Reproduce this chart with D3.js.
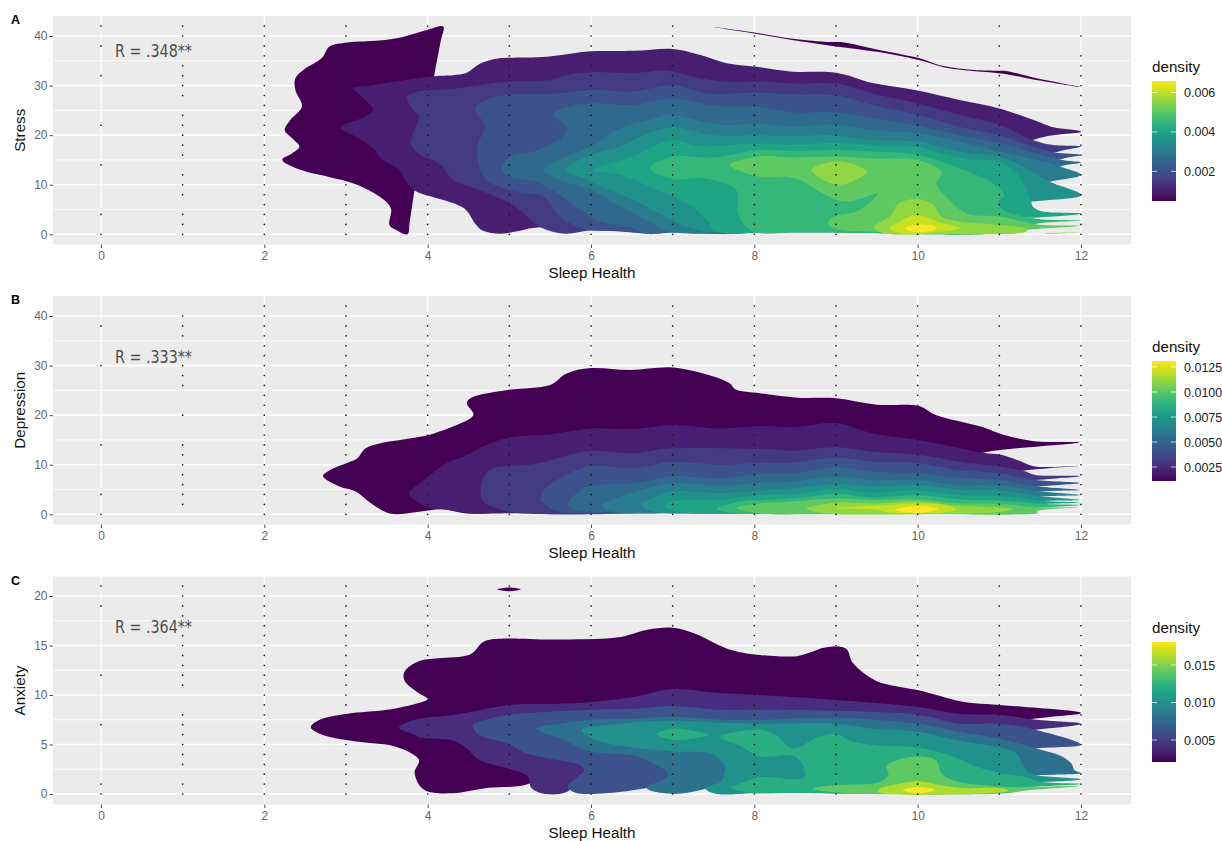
<!DOCTYPE html>
<html>
<head>
<meta charset="utf-8">
<script src="https://cdn.jsdelivr.net/npm/d3@7"></script>
<style>
  html, body { margin: 0; padding: 0; background: #fff; }
  svg { display: block; font-family: "Liberation Sans", Arial, sans-serif; }
</style>
</head>
<body>
<div id="chart"></div>
<script>
const xTicks = [0, 2, 4, 6, 8, 10, 12]
const stressTicks = [0, 10, 20, 30, 40]
const stressMinor = [5, 15, 25, 35]
const anxietyTicks = [0, 5, 10, 15, 20]
const anxietyMinor = [2.5, 7.5, 12.5, 17.5]

const stressLegend = [0.002, 0.004, 0.006]
const depressionLegend = [0.0025, 0.005, 0.0075, 0.01, 0.0125]
const anxietyLegend = [0.005, 0.01, 0.015]

// contour outlines, [sleep health, score]
const stressL1 = [[4.19,41.9],[3.99,41.2],[3.67,39.7],[3.41,39.1],[3.02,38.7],[2.8,37.9],[2.7,35.5],[2.49,33.3],[2.38,31.5],[2.38,29.1],[2.46,25.8],[2.32,23.1],[2.25,21],[2.34,19.4],[2.43,17.7],[2.34,16.3],[2.22,15],[2.44,13],[2.78,11.6],[3.12,10.1],[3.41,7.6],[3.55,5.2],[3.53,2],[3.6,1],[3.75,0],[3.78,2.5],[3.84,9],[3.96,20],[4.08,32],[4.16,39]]
const stressStrip = [[7.49,41.8],[8,40.7],[8.5,39.4],[8.9,38.8],[9.1,38.7],[9.5,37.3],[10,35.6],[10.3,34],[10.65,33.2],[10.95,33],[11.1,32.9],[11.4,31.7],[12,29.7],[11.4,31.3],[11.05,32.4],[10.7,32.9],[10.35,33.6],[10,35.2],[9.5,36.8],[9,37.9],[8.5,39.1],[8,40.5]]
const stressL2 = [[3.09,29.5],[3.26,29.9],[3.6,30.8],[4.08,31.9],[4.31,32.1],[4.48,32.6],[4.64,34.4],[4.84,35.4],[5,35.6],[5.46,35.8],[6,36.9],[6.52,37],[7,37.4],[7.33,36.2],[7.66,34.5],[8.07,33.7],[8.47,32.8],[9,32.6],[9.45,30.5],[10,29],[10.51,27.1],[11,25.4],[11.41,23.1],[11.66,21.6],[12,20.7],[11.41,19],[10.5,10],[8,3],[5.38,1.4],[5.13,.7],[4.89,.1],[4.68,.7],[4.58,2.2],[4.47,4.9],[4.31,6.3],[3.91,8.3],[3.84,8.9],[3.75,10.3],[3.65,13],[3.43,15.3],[3.33,17.4],[3.12,19.7],[2.93,21.7],[3.19,23.4],[3.33,25.1],[3.19,27.8]]
const stressL3 = [[3.75,27.8],[3.89,28.8],[4.31,29.3],[4.64,30.1],[5,30.8],[5.46,31],[5.7,32.1],[6,32.7],[6.52,32.5],[6.93,33],[7.33,31.5],[7.74,30.7],[8.07,30.8],[8.47,30.4],[9,30.4],[9.45,28.4],[10,26.4],[10.51,24.1],[11,22.1],[11.41,19],[11.66,18],[12,17.7],[11.68,16.5],[10,8],[7,.5],[6.76,.2],[6.19,.7],[5.95,.7],[5.68,.1],[5.38,1.4],[5.13,4.9],[4.93,6.9],[4.64,8.9],[4.31,11],[4.15,14.2],[3.91,16],[3.79,18.4],[3.84,21],[3.89,23.7],[3.79,25.8]]
const stressL4 = [[4.58,25.4],[4.76,27.4],[5,28.2],[5.54,28.4],[6,29.1],[6.52,28.8],[7,30.1],[7.42,28.4],[8.07,28.6],[8.47,28.2],[9,28],[9.45,26.1],[10,24.1],[10.51,21.7],[11,20],[11.41,17.7],[11.68,16.5],[12,16],[11.74,15.1],[10,7],[8,.4],[7.29,.2],[7,.5],[6.68,.1],[6.36,.7],[5.95,.9],[5.7,2.6],[5.58,4.2],[5.42,7.6],[5,8.9],[4.72,11],[4.62,14.3],[4.62,18.4],[4.7,21.7]]
const stressL5 = [[5.54,24.3],[5.74,25.8],[6,26.4],[6.52,26.1],[7,27.4],[7.5,26],[8.07,25.7],[8.47,24.6],[9,24.6],[9.45,23.4],[10,21.9],[10.51,20],[11,18.4],[11.74,15.1],[12,14.5],[11.74,13.7],[10,6],[8,.4],[7,.3],[6.68,.1],[6.52,1.2],[6.11,2.6],[5.82,5.6],[5.38,10.3],[5.01,11.6],[4.91,13.3],[5.01,15.7],[5.29,16.7],[5.54,18.4],[5.71,21.2]]
const stressL6 = [[5.42,13.1],[5.7,15.7],[6,17.7],[6.36,21.4],[6.72,23.1],[7,24.1],[7.5,22.2],[8.07,22.2],[8.47,21.8],[9,22.1],[9.45,21],[10,20.4],[10.51,18.7],[11,16.7],[11.66,14.2],[11.74,13.7],[12,12],[11.62,10.6],[10,6],[7.6,.4],[7,.5],[6.76,2.2],[6.44,4.9],[6,8.9],[5.62,11]]
const stressL7 = [[5.7,13.1],[6,16],[6.36,17.7],[6.6,19.7],[7,21.6],[7.5,20],[8.07,20],[8.47,19.8],[9,20],[9.45,19],[10,18.7],[10.51,16.7],[11,15.7],[11.29,13.7],[11.62,10.6],[12,7.9],[11.4,6.6],[10,4],[7.7,.5],[7.29,.9],[6.84,4.2],[6.52,6.9],[6,10.6]]
const stressL8 = [[6.03,13],[6.56,16],[6.76,17.7],[7,19],[7.33,17.8],[8.07,18.3],[8.47,18],[9,18.4],[9.45,17.8],[10,17.6],[10.29,16.3],[10.68,15],[11,14.7],[11.21,12.3],[11.33,8.9],[11.39,6.6],[11.41,5.6],[11.53,4.6],[12,4.2],[11.47,3.4],[10,3],[8,.3],[7.54,.5],[7.42,2.9],[7.17,6.3],[6.76,9.3],[6.36,12]]
const stressL9 = [[6.72,13.3],[7,15.7],[7.5,15.5],[8.07,17],[8.47,16.8],[9,17],[9.45,16.7],[10,16],[10.51,13.3],[10.92,10.3],[11.06,7.9],[10.98,6.3],[11.09,4.6],[11.47,3.1],[12,2.8],[11.47,2.2],[10.9,.1],[9.29,.2],[8.47,.3],[8.07,.2],[7.92,1.2],[7.8,4.2],[7.78,8.9],[7.38,11.3],[7,11.1]]
const stressL10 = [[7.7,14],[8.07,15.7],[8.47,15.5],[9,15.7],[9.45,15.3],[10,15],[10.29,12.6],[10.23,10.3],[10.35,7.6],[10.6,4.2],[11,3.6],[11.47,2],[12,1.7],[11.33,.9],[10.9,.1],[10,.05],[9.45,.5],[9.05,.9],[8.9,2.2],[8.98,3.6],[9.25,4.6],[9.41,6.3],[9.51,8.3],[9.33,7.3],[9.09,6.6],[8.8,8.6],[8.6,10.6],[8.39,11.6],[8.07,11.6]]
const stressL11a = [[8.7,13],[8.8,14],[9,14.7],[9.25,14],[9.38,12.6],[9.25,11],[9.05,10],[8.84,11]]
const stressL11b = [[9.47,1.5],[9.66,3.6],[9.78,6.3],[10,7.1],[10.19,5.9],[10.29,3.6],[10.51,2.6],[11,1.9],[11.33,1.2],[11.29,.3],[10.19,.05],[9.62,.1]]
const stressL11c = [[11.55,.15],[12,.45],[11.6,.05]]
const stressL12 = [[9.66,1.2],[9.82,2.9],[10,3.9],[10.27,2.4],[10.53,1.2],[10.27,.5],[9.82,.1]]
const stressL13 = [[9.85,1.3],[10,2],[10.19,1.7],[10.23,1.2],[10.11,.5],[9.9,.7]]

const depressionL1 = [[2.72,7.6],[2.8,8.9],[3.02,10.4],[3.14,11.3],[3.24,13.3],[3.41,14.3],[3.7,15.1],[3.99,15.9],[4.11,16.5],[4.31,17.7],[4.56,20],[4.48,22.4],[4.56,23.7],[5,25.1],[5.5,26.1],[5.7,28.4],[6,29.5],[6.48,29.1],[7,29.6],[7.5,27.8],[7.7,26.4],[7.78,25.1],[8.07,24.4],[8.53,23.5],[9,23.4],[9.5,22.1],[10,21.9],[10.23,20],[10.77,17.7],[11.06,16],[11.46,14.7],[11.98,14.5],[11.21,13.3],[10.8,12.4],[9,6],[6,2],[4.56,.1],[4.18,1],[3.89,.5],[3.55,.1],[3.31,2.2],[3.12,4.6],[2.92,5.6]]
const depressionL2 = [[3.77,4.2],[3.91,6.3],[4.23,10.3],[4.43,11.6],[4.72,14],[5,15.5],[5.54,16.2],[6,17.3],[6.52,17.2],[7,18],[7.58,17.3],[8.07,17.8],[8.47,17.6],[9,18.4],[9.45,16.3],[10,15],[10.42,13.7],[10.8,12.4],[11.02,12],[11.21,11],[11.46,9.6],[11.98,9.8],[11.29,8.8],[9,4],[6,.3],[5,.2],[4.57,.1],[4.4,.5],[4.18,1],[4.04,1.2],[3.87,2.6]]
const depressionL3 = [[4.65,4.9],[4.68,7.3],[4.8,9.3],[5.33,10.2],[5.74,12],[6,12.8],[6.52,12.3],[7,13.3],[8.07,13.2],[8.47,12.8],[9,13.5],[9.45,12.6],[10,12],[10.51,10.6],[11,9.6],[11.29,8.8],[11.46,7.9],[11.98,7.7],[11.44,6.9],[9,3],[6.5,.2],[5.13,.2],[4.85,1.2],[4.68,2.6]]
const depressionL4 = [[5.38,2.9],[5.42,4.9],[5.58,6.9],[5.82,8.9],[6,9.8],[6.52,9.3],[7,10.6],[7.58,10],[8.07,10.4],[8.47,10.4],[9,11.4],[9.45,10.6],[10,10.3],[10.51,8.9],[11,8.3],[11.44,6.9],[11.98,6.3],[11.48,5.6],[9,2],[6.5,.2],[5.62,.5],[5.44,1.9]]
const depressionL5 = [[5.72,1.9],[5.82,4.2],[6,5.7],[6.52,6.3],[7,7.7],[7.58,7.2],[8.07,8.2],[8.47,8.3],[9,9.5],[9.45,8.6],[10,8.3],[10.51,7.3],[11,6.9],[11.48,5.6],[11.98,4.9],[11.51,4.6],[9,1.5],[6.5,.2],[5.82,.9]]
const depressionL6 = [[6.14,1.9],[6.36,3.6],[6.68,5.2],[7,6.3],[7.58,5.8],[8.07,6.3],[8.47,6.6],[9,7.6],[9.45,6.9],[10,6.9],[10.51,5.9],[11,5.9],[11.51,4.6],[11.98,3.9],[11.53,3.6],[9,1],[7,.2],[6.27,.5]]
const depressionL7 = [[6.62,1.9],[6.84,3.9],[7,4.7],[7.58,4.3],[8.07,4.8],[8.47,5.2],[9,6.1],[9.45,5.6],[10,5.9],[10.51,4.9],[11,4.8],[11.53,3.6],[11.98,2.9],[11.55,2.7],[9,.6],[7,.15],[6.77,.5]]
const depressionL8 = [[6.89,1.7],[7.09,2.9],[7.58,2.9],[8.07,3.9],[8.47,4.1],[9,5],[9.45,4.4],[10,4.8],[10.51,3.9],[11,3.7],[11.55,2.7],[11.98,2.4],[11.55,2.1],[9,.4],[7.3,.1],[7.09,.5]]
const depressionL9 = [[7.54,1.2],[7.83,2.6],[8.07,2.9],[8.47,3.2],[9,4.1],[9.45,3.4],[10,3.9],[10.51,3],[11,2.8],[11.55,2.1],[11.98,1.9],[11.53,1.4],[10,.3],[8,.05],[7.7,.3]]
const depressionL10 = [[7.78,1.3],[8.07,2.2],[8.47,2.6],[9,3.2],[9.45,2.9],[10,3],[10.51,2.2],[11,2.1],[11.53,1.4],[11.98,1.4],[11.47,.7],[11.45,.15],[10,.02],[8.64,.02],[8.1,.1]]
const depressionL11 = [[8.64,1.2],[9,2.4],[9.49,2.2],[10,2.6],[10.51,1.7],[11,1.4],[11.16,1],[10.9,.3],[10,.02],[9,.02],[8.8,.3]]
const depressionL12 = [[8.96,1.2],[9.45,1.7],[10,2.2],[10.34,1.9],[10.48,1],[10.27,.3],[9.69,.3],[9.49,.9]]
const depressionL13 = [[9.73,1],[10,1.7],[10.19,1.4],[10.25,1],[10.07,.3],[9.8,.5]]

const anxietyL1 = [[2.57,6.7],[2.68,7.5],[3.02,8.1],[3.5,8.5],[3.89,9.2],[4,9.6],[3.89,10.2],[3.72,11.4],[3.72,12.4],[3.89,13.4],[4.13,13.7],[4.52,14.1],[4.69,15.4],[4.95,15.7],[5.54,15.6],[6.31,15.8],[6.69,16.6],[7,16.8],[7.27,16.2],[7.66,14.7],[8,14.1],[8.49,13.9],[8.68,14.3],[8.87,14.8],[9.12,14.7],[9.21,13.2],[9.5,11.4],[10,10.5],[10.23,10],[10.57,9.3],[11.16,8.9],[12,8.2],[11.42,7.6],[9,5],[5.6,3],[5.23,1],[4.72,.6],[4.31,.07],[3.96,.4],[3.84,2.1],[3.89,3.5],[3.6,4.8],[3.12,5.3],[2.78,5.8]]
const anxietyIsland = [[4.85,20.67],[5,20.85],[5.14,20.67],[5,20.47]]
const anxietyL2 = [[3.65,6.7],[3.84,7.5],[4.33,8],[5,9],[5.54,9.1],[6,9.3],[6.52,9.8],[7,10.6],[7.58,10.2],[8.07,10],[9,9.5],[10,8.8],[10.51,8.1],[11,8],[11.45,7.5],[12,7.1],[11.44,6.5],[9,5],[6,2],[5.7,.2],[5.44,0],[5.27,.6],[5.21,1.9],[4.64,3.4],[4.48,4.6],[4.31,5.4],[3.91,5.7],[3.84,6]]
const anxietyL3 = [[4.55,6.9],[4.64,7.3],[5,8],[6,8.5],[6.52,8.6],[7,8.9],[7.58,8.5],[8.07,8.5],[9,8.4],[10,8],[10.51,7.1],[11,7.1],[11.44,6.5],[12,5],[11.45,4.6],[9,3],[7.3,1.5],[6.68,.6],[6.36,.2],[6,0],[5.82,.1],[5.72,.6],[5.74,1.1],[5.91,2.3],[5.87,2.9],[5.62,3.4],[5.21,4.1],[4.97,5.1],[4.64,5.9]]
const anxietyL4 = [[5.33,6.6],[5.62,7.1],[6,7.5],[6.52,7.6],[7,7.8],[7.58,7.5],[8.07,7.5],[9,7.7],[10,7.1],[10.51,6.3],[11,5.6],[11.45,4.6],[11.74,3.9],[11.88,3.1],[11.92,2.4],[12,2.1],[11.47,1.9],[9,1],[7.6,1],[7.37,.45],[7,0],[6.68,.6],[6.95,1.9],[6.76,3.1],[6.52,3.9],[6,4.3],[5.62,5.6]]
const anxietyL5 = [[5.89,6.5],[6.36,7.1],[7,7.4],[7.58,7.2],[8.07,7.1],[9,7.1],[9.45,6.6],[10,6.3],[10.51,5.4],[11,4.7],[11.2,4.2],[11.33,2.4],[11.45,1.9],[12,1.5],[11.45,1.2],[9,.8],[8,.1],[7.54,0],[7.4,.6],[7.58,1.2],[7.64,2.8],[7.46,4.1],[7,4.3],[6.44,4.8],[6.07,5.4]]
const anxietyL6a = [[6.8,6.05],[7,6.6],[7.25,6.4],[7.44,5.95],[7.25,5.6],[7,5.45]]
const anxietyL6b = [[7.58,5.8],[8.07,6.5],[8.27,5.9],[8.47,4.6],[8.8,5.8],[9,6.1],[9.17,5.4],[9.49,4.9],[10,4.7],[10.43,3.8],[10.71,2.8],[11,2.1],[11.33,1.7],[11.53,1.2],[12,1],[11.4,.7],[11,.3],[9.3,.02],[8.47,.1],[7.95,.1],[7.71,.6],[7.78,.9],[8.07,1.7],[8.47,1.5],[8.62,1.7],[8.58,3.1],[8.47,3.9],[8.07,3.8],[7.82,4.9]]
const anxietyL7 = [[8.72,.5],[9,.9],[9.49,1.1],[9.64,1.9],[9.62,2.8],[9.74,3.4],[10,3.8],[10.23,3.4],[10.29,2.1],[10.51,1.2],[10.92,.8],[11.13,.7],[12,.8],[11.33,.35],[11,.02],[9.29,.02]]
const anxietyL8 = [[9.51,.4],[9.7,.9],[10,1.3],[10.27,.9],[10.55,.6],[11,.6],[11.11,.3],[10.7,.02],[9.6,.02]]
const anxietyL9 = [[9.82,.4],[10,.7],[10.21,.4],[10,.07]]

const fullEven = [0,2,4,6,8,10,12,14,16,18,20,22,24,26,28,30,32,34,36,38,40,42]
const evenTo40 = [0,2,4,6,8,10,12,14,16,18,20,22,24,26,28,30,32,34,36,38,40]
const fullOnes = [0,1,2,3,4,5,6,7,8,9,10,11,12,13,14,15,16,17,18,19,20,21]

// observed scores, one list per sleep health value 0..12
const stressDots = [
  [0,4,14,22,32,38,42],
  [0,2,4,8,10,12,16,18,20,22,24,28,30,32,34,40,42],
  fullEven, fullEven, fullEven, fullEven, fullEven, fullEven,
  evenTo40, fullEven, evenTo40,
  [0,2,4,6,8,10,12,14,16,18,20,22,24,26,28,30,32,34,38,42],
  [0,2,4,6,8,10,12,14,16,18,20,22,24,26,28,30,32,34,36,40]
]
const depressionDots = [
  [0,4,14,30,38],
  [2,4,6,8,10,12,14,20,26,28,30,36,38,40],
  fullEven, fullEven, evenTo40, fullEven, fullEven, fullEven, fullEven, fullEven, fullEven,
  [0,2,4,6,8,10,12,14,16,18,20,22,24,26,28,30,32,34,38,40],
  [0,2,4,6,8,10,12,14,16,18,20,22,24,26,28,30,32,34,38]
]
const anxietyDots = [
  [0,1,7,12,19,21],
  [0,1,3,4,5,6,7,8,11,12,13,14,15,16,18,19,20,21],
  fullOnes, fullOnes, fullOnes, fullOnes, fullOnes, fullOnes, fullOnes, fullOnes, fullOnes,
  [0,1,2,3,4,5,6,7,8,9,10,11,12,13,14,15,16,17,19,21],
  [0,1,2,3,4,5,6,7,8,9,10,11,12,13,14,15,16,17,19]
]

const width = 1222
const height = 841
const xScale = d3.scaleLinear().domain([0, 12]).range([101, 1081])
const panelLeft = 53
const panelRight = 1131

const panels = [
  {
    letter: 'A', yLabel: 'Stress', r: 'R = .348**', rValue: 35.8,
    top: 16, bottom: 244.5, yDomain: [0, 40], yRange: [234.3, 36],
    ticks: stressTicks, minor: stressMinor, dots: stressDots,
    levels: 13,
    bands: [[0, stressL1], [0, stressStrip], [1, stressL2], [2, stressL3], [3, stressL4], [4, stressL5], [5, stressL6], [6, stressL7], [7, stressL8], [8, stressL9], [9, stressL10], [10, stressL11a], [10, stressL11b], [10, stressL11c], [11, stressL12], [12, stressL13]],
    legend: stressLegend, legendDomain: [0.0005, 0.00658], legendTop: 81, format: d3.format('.3f')
  },
  {
    letter: 'B', yLabel: 'Depression', r: 'R = .333**', rValue: 30.6,
    top: 296, bottom: 524.5, yDomain: [0, 40], yRange: [514.3, 316],
    ticks: stressTicks, minor: stressMinor, dots: depressionDots,
    levels: 13,
    bands: [[0, depressionL1], [1, depressionL2], [2, depressionL3], [3, depressionL4], [4, depressionL5], [5, depressionL6], [6, depressionL7], [7, depressionL8], [8, depressionL9], [9, depressionL10], [10, depressionL11], [11, depressionL12], [12, depressionL13]],
    legend: depressionLegend, legendDomain: [0.0011, 0.0131], legendTop: 361, format: d3.format('.4f')
  },
  {
    letter: 'C', yLabel: 'Anxiety', r: 'R = .364**', rValue: 16.3,
    top: 576.5, bottom: 804.5, yDomain: [0, 20], yRange: [794, 596],
    ticks: anxietyTicks, minor: anxietyMinor, dots: anxietyDots,
    levels: 9,
    bands: [[0, anxietyL1], [0, anxietyIsland], [1, anxietyL2], [2, anxietyL3], [3, anxietyL4], [4, anxietyL5], [5, anxietyL6a], [5, anxietyL6b], [6, anxietyL7], [7, anxietyL8], [8, anxietyL9]],
    legend: anxietyLegend, legendDomain: [0.00207, 0.01807], legendTop: 642, format: d3.format('.3f')
  }
]

const svg = d3.select('#chart')
  .append('svg')
  .attr('width', width)
  .attr('height', height)

const defs = svg.append('defs')
const gradient = defs.append('linearGradient')
  .attr('id', 'viridis')
  .attr('x1', 0).attr('x2', 0).attr('y1', 1).attr('y2', 0)
d3.range(0, 1.001, 0.05).forEach(t => {
  gradient.append('stop')
    .attr('offset', t)
    .attr('stop-color', d3.interpolateViridis(t))
})

panels.forEach(panel => {
  const y = d3.scaleLinear().domain(panel.yDomain).range(panel.yRange)
  const g = svg.append('g')

  g.append('rect')
    .attr('x', panelLeft)
    .attr('y', panel.top)
    .attr('width', panelRight - panelLeft)
    .attr('height', panel.bottom - panel.top)
    .attr('fill', '#ebebeb')

  g.selectAll('line.minor')
    .data(panel.minor)
    .enter()
    .append('line')
    .attr('x1', panelLeft)
    .attr('x2', panelRight)
    .attr('y1', d => y(d))
    .attr('y2', d => y(d))
    .attr('stroke', '#fff')
    .attr('stroke-width', 0.8)

  g.selectAll('line.major')
    .data(panel.ticks)
    .enter()
    .append('line')
    .attr('x1', panelLeft)
    .attr('x2', panelRight)
    .attr('y1', d => y(d))
    .attr('y2', d => y(d))
    .attr('stroke', '#fff')
    .attr('stroke-width', 1.6)

  g.selectAll('line.vertical')
    .data(xTicks)
    .enter()
    .append('line')
    .attr('x1', d => xScale(d))
    .attr('x2', d => xScale(d))
    .attr('y1', panel.top)
    .attr('y2', panel.bottom)
    .attr('stroke', '#fff')
    .attr('stroke-width', 1.3)

  const outline = d3.line()
    .x(d => xScale(d[0]))
    .y(d => y(d[1]))
    .curve(d3.curveCatmullRomClosed.alpha(0.3))

  g.append('g')
    .style('filter', 'blur(0.5px)')
    .selectAll('path')
    .data(panel.bands)
    .enter()
    .append('path')
    .attr('d', d => outline(d[1]))
    .attr('fill', d => d3.interpolateViridis(d[0] / (panel.levels - 1)))

  panel.dots.forEach((column, sleep) => {
    g.append('g')
      .selectAll('circle')
      .data(column)
      .enter()
      .append('circle')
      .attr('cx', xScale(sleep))
      .attr('cy', d => y(d))
      .attr('r', 0.85)
      .attr('fill', '#1a1a1a')
  })

  const xAxis = g.append('g')
    .attr('transform', `translate(0,${panel.bottom})`)
    .call(d3.axisBottom(xScale).tickValues(xTicks).tickSize(3.5).tickPadding(3).tickFormat(d3.format('d')))
  const yAxis = g.append('g')
    .attr('transform', `translate(${panelLeft},0)`)
    .call(d3.axisLeft(y).tickValues(panel.ticks).tickSize(3.5).tickPadding(2).tickFormat(d3.format('d')))
  ;[xAxis, yAxis].forEach(axis => {
    axis.select('.domain').remove()
    axis.selectAll('line').attr('stroke', '#4d4d4d').attr('stroke-width', 1)
    axis.selectAll('text')
      .attr('fill', '#666')
      .attr('font-size', 12)
      .attr('font-family', '"Liberation Sans", Arial, sans-serif')
  })

  g.append('text')
    .attr('x', (panelLeft + panelRight) / 2)
    .attr('y', panel.bottom + 33.5)
    .attr('text-anchor', 'middle')
    .attr('font-size', 15.2)
    .attr('fill', '#111')
    .text('Sleep Health')

  g.append('text')
    .attr('transform', `translate(25,${(panel.top + panel.bottom) / 2}) rotate(-90)`)
    .attr('text-anchor', 'middle')
    .attr('font-size', 15.2)
    .attr('fill', '#111')
    .text(panel.yLabel)

  g.append('text')
    .attr('x', 11)
    .attr('y', panel.top + 8)
    .attr('font-size', 12.5)
    .attr('font-weight', 'bold')
    .attr('fill', '#000')
    .text(panel.letter)

  g.append('text')
    .attr('x', 115)
    .attr('y', y(panel.rValue))
    .attr('font-size', 17)
    .attr('font-family', '"DejaVu Sans", sans-serif')
    .attr('textLength', 77)
    .attr('lengthAdjust', 'spacingAndGlyphs')
    .attr('fill', '#4d4d4d')
    .text(panel.r)

  // legend
  const barLeft = 1152
  const barWidth = 24
  const barHeight = 120
  const legendY = d3.scaleLinear()
    .domain(panel.legendDomain)
    .range([panel.legendTop + barHeight, panel.legendTop])

  g.append('text')
    .attr('x', barLeft)
    .attr('y', panel.legendTop - 9)
    .attr('font-size', 15.2)
    .attr('fill', '#111')
    .text('density')

  g.append('rect')
    .attr('x', barLeft)
    .attr('y', panel.legendTop)
    .attr('width', barWidth)
    .attr('height', barHeight)
    .attr('fill', 'url(#viridis)')

  const legendTicks = g.selectAll('g.legendTick')
    .data(panel.legend)
    .enter()
    .append('g')
    .attr('transform', d => `translate(0,${legendY(d)})`)

  legendTicks.append('line')
    .attr('x1', barLeft).attr('x2', barLeft + 5)
    .attr('stroke', '#fff').attr('stroke-opacity', 0.7)
  legendTicks.append('line')
    .attr('x1', barLeft + barWidth - 5).attr('x2', barLeft + barWidth)
    .attr('stroke', '#fff').attr('stroke-opacity', 0.7)
  legendTicks.append('text')
    .attr('x', barLeft + barWidth + 8)
    .attr('dy', '0.36em')
    .attr('font-size', 12.5)
    .attr('fill', '#222')
    .text(d => panel.format(d))
})
</script>
</body>
</html>
